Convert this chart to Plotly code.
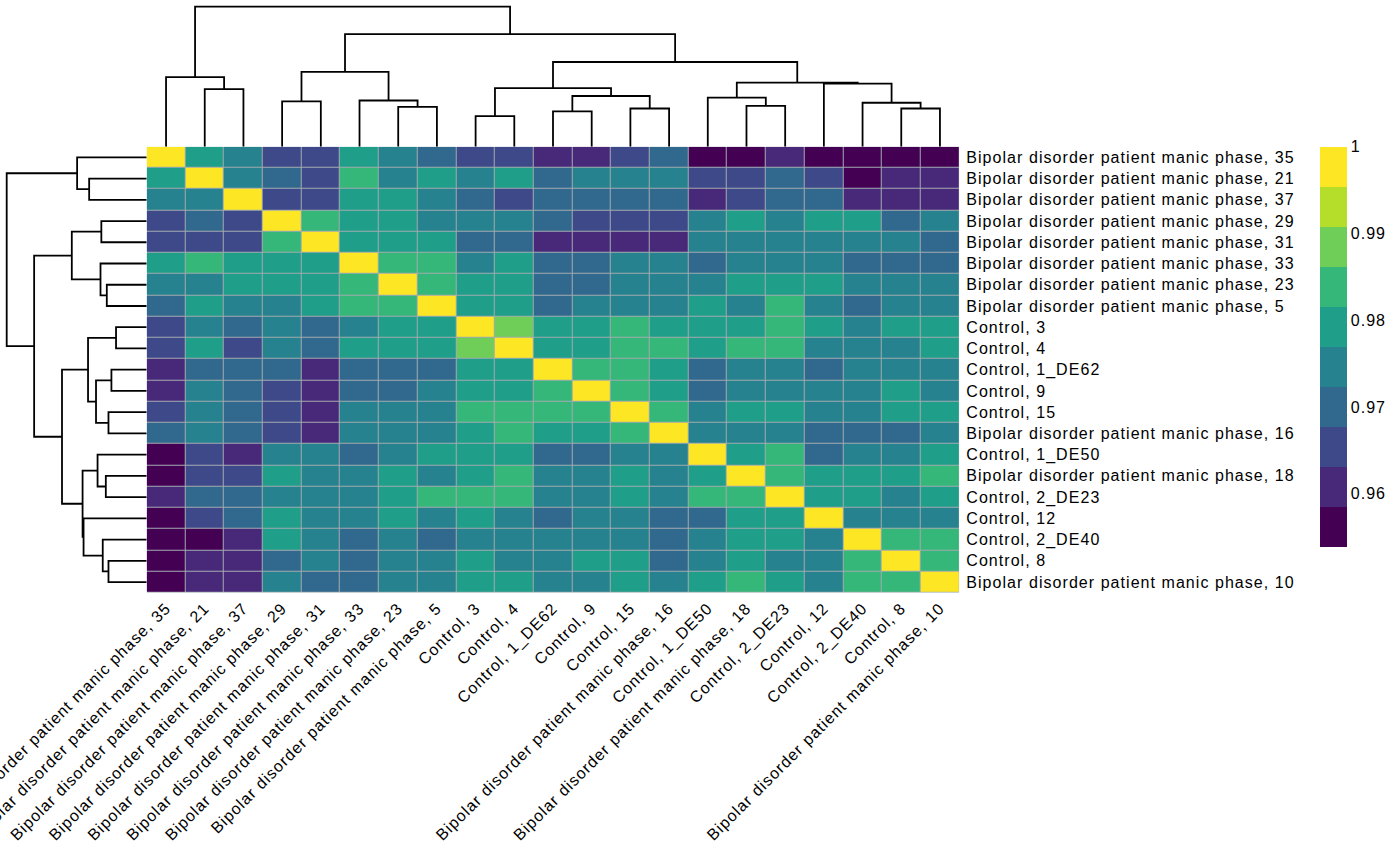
import plotly.graph_objects as go

# ---------------- data ----------------
labels = [
    "Bipolar disorder patient manic phase, 35",
    "Bipolar disorder patient manic phase, 21",
    "Bipolar disorder patient manic phase, 37",
    "Bipolar disorder patient manic phase, 29",
    "Bipolar disorder patient manic phase, 31",
    "Bipolar disorder patient manic phase, 33",
    "Bipolar disorder patient manic phase, 23",
    "Bipolar disorder patient manic phase, 5",
    "Control, 3",
    "Control, 4",
    "Control, 1_DE62",
    "Control, 9",
    "Control, 15",
    "Bipolar disorder patient manic phase, 16",
    "Control, 1_DE50",
    "Bipolar disorder patient manic phase, 18",
    "Control, 2_DE23",
    "Control, 12",
    "Control, 2_DE40",
    "Control, 8",
    "Bipolar disorder patient manic phase, 10",
]

corr = [
    [1.0, 0.9793, 0.9746, 0.9654, 0.9654, 0.9793, 0.9746, 0.9700, 0.9654, 0.9654, 0.9608, 0.9608, 0.9654, 0.9700, 0.9562, 0.9562, 0.9608, 0.9562, 0.9562, 0.9562, 0.9562],
    [0.9793, 1.0, 0.9746, 0.9700, 0.9654, 0.9839, 0.9746, 0.9793, 0.9746, 0.9793, 0.9700, 0.9746, 0.9746, 0.9746, 0.9654, 0.9654, 0.9700, 0.9654, 0.9562, 0.9608, 0.9608],
    [0.9746, 0.9746, 1.0, 0.9654, 0.9654, 0.9793, 0.9793, 0.9746, 0.9700, 0.9654, 0.9700, 0.9700, 0.9700, 0.9700, 0.9608, 0.9654, 0.9700, 0.9700, 0.9608, 0.9608, 0.9608],
    [0.9654, 0.9700, 0.9654, 1.0, 0.9839, 0.9793, 0.9793, 0.9746, 0.9746, 0.9746, 0.9700, 0.9654, 0.9654, 0.9654, 0.9746, 0.9793, 0.9746, 0.9793, 0.9793, 0.9700, 0.9746],
    [0.9654, 0.9654, 0.9654, 0.9839, 1.0, 0.9793, 0.9793, 0.9793, 0.9700, 0.9700, 0.9608, 0.9608, 0.9608, 0.9608, 0.9746, 0.9746, 0.9746, 0.9746, 0.9746, 0.9746, 0.9700],
    [0.9793, 0.9839, 0.9793, 0.9793, 0.9793, 1.0, 0.9839, 0.9839, 0.9746, 0.9793, 0.9700, 0.9700, 0.9746, 0.9746, 0.9700, 0.9746, 0.9746, 0.9746, 0.9700, 0.9700, 0.9700],
    [0.9746, 0.9746, 0.9793, 0.9793, 0.9793, 0.9839, 1.0, 0.9839, 0.9793, 0.9793, 0.9700, 0.9700, 0.9746, 0.9746, 0.9746, 0.9793, 0.9793, 0.9793, 0.9746, 0.9746, 0.9746],
    [0.9700, 0.9793, 0.9746, 0.9746, 0.9793, 0.9839, 0.9839, 1.0, 0.9793, 0.9793, 0.9700, 0.9746, 0.9746, 0.9746, 0.9793, 0.9746, 0.9839, 0.9746, 0.9700, 0.9746, 0.9746],
    [0.9654, 0.9746, 0.9700, 0.9746, 0.9700, 0.9746, 0.9793, 0.9793, 1.0, 0.9885, 0.9793, 0.9793, 0.9839, 0.9793, 0.9793, 0.9793, 0.9839, 0.9793, 0.9746, 0.9793, 0.9793],
    [0.9654, 0.9793, 0.9654, 0.9746, 0.9700, 0.9793, 0.9793, 0.9793, 0.9885, 1.0, 0.9793, 0.9793, 0.9839, 0.9839, 0.9793, 0.9839, 0.9839, 0.9746, 0.9746, 0.9746, 0.9793],
    [0.9608, 0.9700, 0.9700, 0.9700, 0.9608, 0.9700, 0.9700, 0.9700, 0.9793, 0.9793, 1.0, 0.9839, 0.9839, 0.9793, 0.9700, 0.9746, 0.9746, 0.9700, 0.9746, 0.9746, 0.9746],
    [0.9608, 0.9746, 0.9700, 0.9654, 0.9608, 0.9700, 0.9700, 0.9746, 0.9793, 0.9793, 0.9839, 1.0, 0.9839, 0.9793, 0.9700, 0.9746, 0.9746, 0.9746, 0.9746, 0.9793, 0.9746],
    [0.9654, 0.9746, 0.9700, 0.9654, 0.9608, 0.9746, 0.9746, 0.9746, 0.9839, 0.9839, 0.9839, 0.9839, 1.0, 0.9839, 0.9746, 0.9793, 0.9793, 0.9746, 0.9746, 0.9793, 0.9793],
    [0.9700, 0.9746, 0.9700, 0.9654, 0.9608, 0.9746, 0.9746, 0.9746, 0.9793, 0.9839, 0.9793, 0.9793, 0.9839, 1.0, 0.9746, 0.9746, 0.9746, 0.9700, 0.9700, 0.9700, 0.9746],
    [0.9562, 0.9654, 0.9608, 0.9746, 0.9746, 0.9700, 0.9746, 0.9793, 0.9793, 0.9793, 0.9700, 0.9700, 0.9746, 0.9746, 1.0, 0.9793, 0.9839, 0.9700, 0.9746, 0.9746, 0.9793],
    [0.9562, 0.9654, 0.9654, 0.9793, 0.9746, 0.9746, 0.9793, 0.9746, 0.9793, 0.9839, 0.9746, 0.9746, 0.9793, 0.9746, 0.9793, 1.0, 0.9839, 0.9793, 0.9793, 0.9793, 0.9839],
    [0.9608, 0.9700, 0.9700, 0.9746, 0.9746, 0.9746, 0.9793, 0.9839, 0.9839, 0.9839, 0.9746, 0.9746, 0.9793, 0.9746, 0.9839, 0.9839, 1.0, 0.9793, 0.9793, 0.9746, 0.9793],
    [0.9562, 0.9654, 0.9700, 0.9793, 0.9746, 0.9746, 0.9793, 0.9746, 0.9793, 0.9746, 0.9700, 0.9746, 0.9746, 0.9700, 0.9700, 0.9793, 0.9793, 1.0, 0.9746, 0.9746, 0.9746],
    [0.9562, 0.9562, 0.9608, 0.9793, 0.9746, 0.9700, 0.9746, 0.9700, 0.9746, 0.9746, 0.9746, 0.9746, 0.9746, 0.9700, 0.9746, 0.9793, 0.9793, 0.9746, 1.0, 0.9839, 0.9839],
    [0.9562, 0.9608, 0.9608, 0.9700, 0.9746, 0.9700, 0.9746, 0.9746, 0.9793, 0.9746, 0.9746, 0.9793, 0.9793, 0.9700, 0.9746, 0.9793, 0.9746, 0.9746, 0.9839, 1.0, 0.9839],
    [0.9562, 0.9608, 0.9608, 0.9746, 0.9700, 0.9700, 0.9746, 0.9746, 0.9793, 0.9793, 0.9746, 0.9746, 0.9793, 0.9746, 0.9793, 0.9839, 0.9793, 0.9746, 0.9839, 0.9839, 1.0],
]

# hierarchical clustering merges (leaf ids = display order, new ids start at 21)
merge_a = [8, 10, 12, 19, 6, 15, 18, 3, 5, 14, 22, 1, 21, 17, 30, 0, 28, 33, 37, 36]
merge_b = [9, 11, 13, 20, 7, 16, 24, 4, 25, 26, 23, 2, 31, 27, 34, 32, 29, 35, 38, 39]
merge_h = [0.219, 0.252, 0.273, 0.273, 0.285, 0.292, 0.314, 0.324, 0.330, 0.351,
           0.362, 0.411, 0.419, 0.451, 0.458, 0.497, 0.535, 0.605, 0.804, 1.000]

legend_ticks = [0.96, 0.97, 0.98, 0.99, 1.0]
legend_ticktext = ["0.96", "0.97", "0.98", "0.99", "1"]
legend_min, legend_max = 0.9539, 1.0
viridis10 = ["#440154", "#482878", "#3E4989", "#31688E", "#26828E",
             "#1F9E89", "#35B779", "#6ECE58", "#B5DE2B", "#FDE725"]

# ---------------- build ----------------
W, H = 1400, 865
n = len(labels)

def px_x(p):
    return p / W

def px_y(p):
    return (H - p) / H

hm_l, hm_r, hm_t, hm_b = 146.7, 959.3, 146.7, 592.7
root_px = 6.7
dend_max = max(merge_h) * hm_t / (hm_t - root_px)

colorscale = []
nc = len(viridis10)
for i, c in enumerate(viridis10):
    colorscale.append([i / nc, c])
    colorscale.append([(i + 1) / nc, c])

# dendrogram segments
pos = {i: float(i) for i in range(n)}
hgt = {i: 0.0 for i in range(n)}
seg_pos, seg_h = [], []
for k, (a, b, h) in enumerate(zip(merge_a, merge_b, merge_h)):
    nid = n + k
    seg_pos += [pos[a], pos[a], pos[b], pos[b], None]
    seg_h += [hgt[a], h, h, hgt[b], None]
    pos[nid] = (pos[a] + pos[b]) / 2
    hgt[nid] = h

FONT = "Liberation Sans, Arial, sans-serif"

def spaced(t):
    return '<span style="letter-spacing:1.05px">' + t + '</span>'

fig = go.Figure()
fig.add_trace(go.Heatmap(
    z=corr, x=list(range(n)), y=list(range(n)),
    colorscale=colorscale, zmin=legend_min, zmax=legend_max,
    xgap=1, ygap=1, hoverinfo="skip",
    colorbar=dict(
        x=px_x(1320), xanchor="left", y=px_y(146.7), yanchor="top",
        len=400, lenmode="pixels", thickness=27, thicknessmode="pixels",
        xpad=0, ypad=0, outlinewidth=0, ticks="",
        tickvals=legend_ticks, ticktext=[spaced(t) for t in legend_ticktext],
        tickfont=dict(family=FONT, size=16, color="black"),
    ),
    xaxis="x", yaxis="y",
))
fig.add_trace(go.Scatter(
    x=seg_pos, y=seg_h, mode="lines", line=dict(color="black", width=1.8),
    xaxis="x2", yaxis="y2", hoverinfo="skip", showlegend=False, cliponaxis=False,
))
fig.add_trace(go.Scatter(
    x=seg_h, y=seg_pos, mode="lines", line=dict(color="black", width=1.8),
    xaxis="x3", yaxis="y3", hoverinfo="skip", showlegend=False, cliponaxis=False,
))

# grey cell borders: a grey backdrop behind the heatmap, visible through the gaps
fig.add_shape(type="rect", xref="x", yref="y", x0=-0.5, x1=n - 0.5, y0=-0.5, y1=n - 0.5,
              fillcolor="#a3abb0", line=dict(width=0), layer="below")

axis_off = dict(visible=False, showgrid=False, zeroline=False, fixedrange=True)
fig.update_layout(
    width=W, height=H,
    margin=dict(l=0, r=0, t=0, b=0, autoexpand=False),
    paper_bgcolor="white", plot_bgcolor="white",
    showlegend=False,
    font=dict(family=FONT, size=16, color="black"),
    xaxis=dict(domain=[px_x(hm_l), px_x(hm_r)], range=[-0.5, n - 0.5],
               tickvals=list(range(n)), ticktext=[spaced(t) for t in labels],
               tickangle=-45, ticks="", showgrid=False, zeroline=False,
               showline=False, anchor="y", ticklabelstandoff=2, automargin=False,
               ticklabeloverflow="allow", fixedrange=True,
               tickfont=dict(family=FONT, size=16, color="black")),
    yaxis=dict(domain=[px_y(hm_b), px_y(hm_t)], range=[n - 0.5, -0.5],
               tickvals=list(range(n)), ticktext=[spaced(t) for t in labels],
               side="right", ticks="", showgrid=False, zeroline=False,
               showline=False, anchor="x", ticklabelstandoff=6, automargin=False,
               ticklabeloverflow="allow", fixedrange=True,
               tickfont=dict(family=FONT, size=16, color="black")),
    xaxis2=dict(domain=[px_x(hm_l), px_x(hm_r)], range=[-0.5, n - 0.5],
                anchor="y2", **axis_off),
    yaxis2=dict(domain=[px_y(hm_t), 1.0], range=[0, dend_max],
                anchor="x2", **axis_off),
    xaxis3=dict(domain=[0.0, px_x(hm_l)], range=[dend_max, 0],
                anchor="y3", **axis_off),
    yaxis3=dict(domain=[px_y(hm_b), px_y(hm_t)], range=[n - 0.5, -0.5],
                anchor="x3", **axis_off),
)

fig.write_html("out.html", config={"displayModeBar": False},
               post_script="document.body.style.margin='0px';")
